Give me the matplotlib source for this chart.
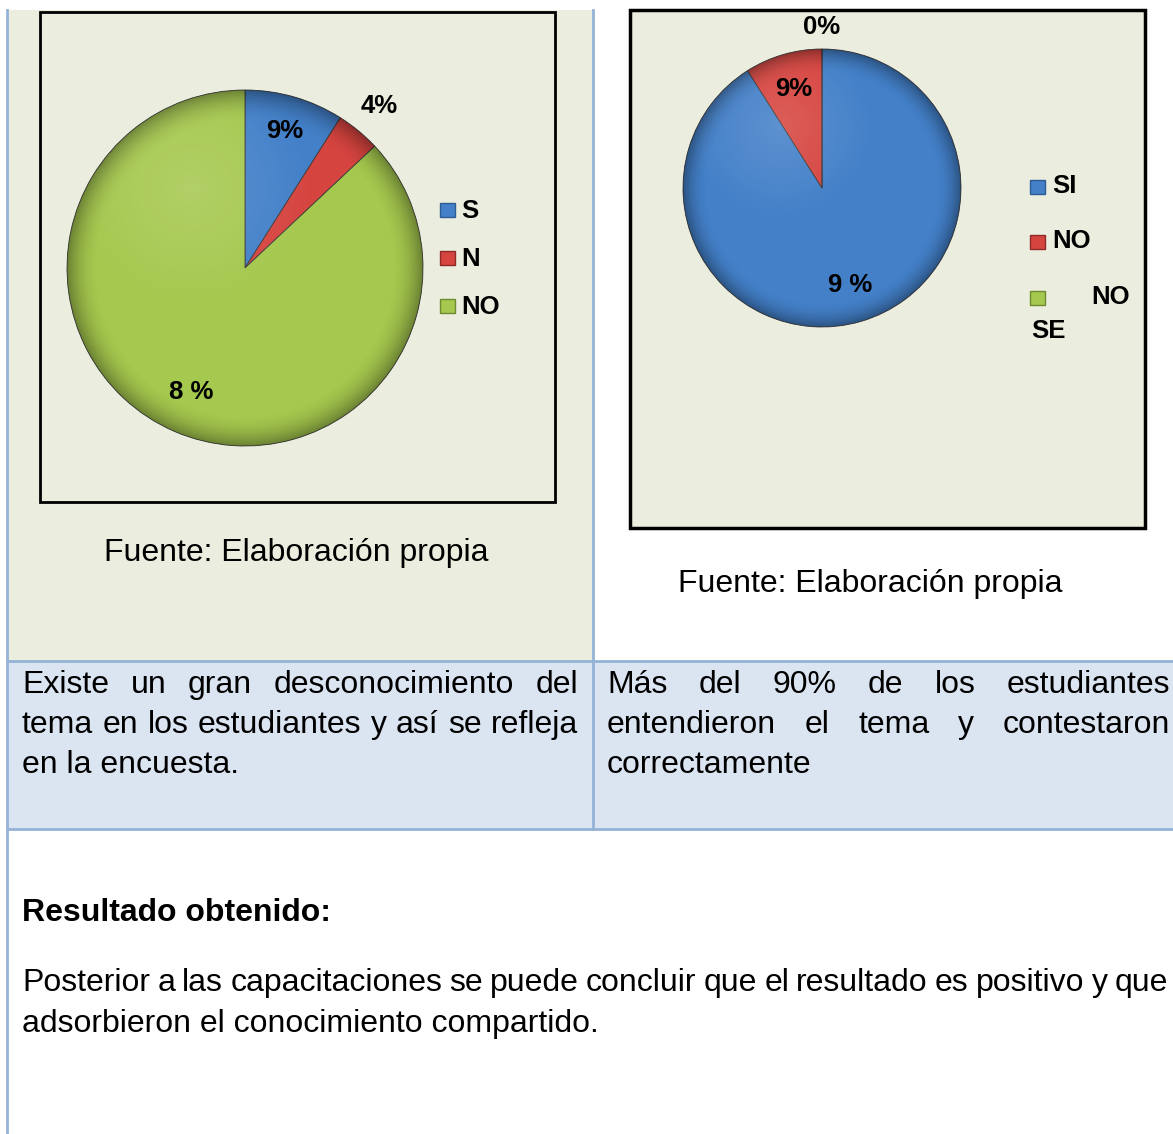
import numpy as np
import matplotlib
matplotlib.use("Agg")
import matplotlib.pyplot as plt
from matplotlib.patches import Rectangle, Circle

plt.rcParams['font.family'] = ['Liberation Sans', 'DejaVu Sans']

# data
left_labels = ['S', 'N', 'NO']
left_values = [9, 4, 87]
left_pct_text = ['9%', '4%', '8 %']

right_labels = ['SI', 'NO', 'NO SE']
right_values = [91, 9, 0]
right_pct_text = ['9 %', '9%', '0%']

source_text = 'Fuente: Elaboración propia'
left_note = ['Existe un gran desconocimiento del',
             'tema en los estudiantes y así se refleja',
             'en la encuesta.']
right_note = ['Más del 90% de los estudiantes',
              'entendieron el tema y contestaron',
              'correctamente']
result_title = 'Resultado obtenido:'
result_text = ['Posterior a las capacitaciones se puede concluir que el resultado es positivo y que',
               'adsorbieron el conocimiento compartido.']

W, H = 1173, 1134
BLUE, RED, GREEN = '#4380C8', '#D6443F', '#A5C84E'
EDGES = ['#2E5C94', '#8E2A27', '#6F8A30']
LINE = '#95B3D7'
CELL_GREEN = '#EBEEDF'
CELL_BLUE = '#DBE5F1'

fig = plt.figure(figsize=(W / 100, H / 100), dpi=100)
bg = fig.add_axes([0, 0, 1, 1])
bg.set_xlim(0, W)
bg.set_ylim(H, 0)
bg.axis('off')
renderer = fig.canvas.get_renderer()

# table cells
bg.add_patch(Rectangle((8, 10), 585, 651, color=CELL_GREEN, lw=0))
bg.add_patch(Rectangle((8, 662), W - 8, 167, color=CELL_BLUE, lw=0))
bg.plot([7, 7], [10, H], color=LINE, lw=2)
bg.plot([593, 593], [10, 829], color=LINE, lw=2)
bg.plot([7, W], [661, 661], color=LINE, lw=2)
bg.plot([7, W], [829, 829], color=LINE, lw=2)

# chart frames
bg.add_patch(Rectangle((40, 12), 515, 490, facecolor=CELL_GREEN, edgecolor='black', lw=2))
bg.add_patch(Rectangle((630, 10), 515, 518, facecolor=CELL_GREEN, edgecolor='black', lw=2.5))


def draw_pie(cx, cy, r, values, colors, texts, dists):
    ax = fig.add_axes([(cx - r) / W, 1 - (cy + r) / H, 2 * r / W, 2 * r / H])
    wedges, _ = ax.pie(values, colors=colors, startangle=90, counterclock=False,
                       wedgeprops=dict(edgecolor='#3a3a3a', linewidth=0.6))
    # darker rim for a bit of bevel
    yy, xx = np.mgrid[-1:1:400j, -1:1:400j]
    rr = np.hypot(xx, yy)
    shade = np.zeros((400, 400, 4))
    shade[..., 3] = np.clip((rr - 0.82) / 0.18, 0, 1) ** 2 * 0.35
    hl = np.zeros((400, 400, 4))
    hl[..., :3] = 1
    hl[..., 3] = np.clip(0.14 - 0.2 * np.hypot(xx + 0.3, yy - 0.45), 0, 1)
    for img in (shade, hl):
        im = ax.imshow(img, extent=(-1, 1, -1, 1), origin='lower', zorder=3)
        im.set_clip_path(Circle((0, 0), 1, transform=ax.transData))
    for w, t, d in zip(wedges, texts, dists):
        mid = np.deg2rad((w.theta1 + w.theta2) / 2)
        ax.text(d * np.cos(mid), d * np.sin(mid), t, ha='center', va='center',
                fontsize=18.5, fontweight='bold', zorder=5)
    ax.set_xlim(-1, 1)
    ax.set_ylim(-1, 1)
    ax.set_aspect('equal')
    ax.axis('off')


draw_pie(245, 268, 178, left_values, [BLUE, RED, GREEN], left_pct_text, [0.8, 1.18, 0.76])
draw_pie(822, 188, 139, right_values, [BLUE, RED, GREEN], right_pct_text, [0.73, 0.74, 1.16])

# legends
for (y, lab, c, e) in zip([210, 258, 306], left_labels, [BLUE, RED, GREEN], EDGES):
    bg.add_patch(Rectangle((440, y - 7), 15, 14, facecolor=c, edgecolor=e, lw=1))
    bg.text(461, y + 1, lab, fontsize=18.5, fontweight='bold', va='center')
for (y, c, e) in zip([187, 242, 298], [BLUE, RED, GREEN], EDGES):
    bg.add_patch(Rectangle((1030, y - 7), 15, 14, facecolor=c, edgecolor=e, lw=1))
bg.text(1052, 186, right_labels[0], fontsize=18.5, fontweight='bold', va='center')
bg.text(1052, 241, right_labels[1], fontsize=18.5, fontweight='bold', va='center')
no_se = right_labels[2].split()
bg.text(1130, 297, no_se[0], fontsize=18.5, fontweight='bold', va='center', ha='right')
bg.text(1031, 331, no_se[1], fontsize=18.5, fontweight='bold', va='center')

FS = 23
bg.text(104, 561, source_text, fontsize=FS, va='baseline')
bg.text(678, 592, source_text, fontsize=FS, va='baseline')


def justify(line, x0, x1, y, size, weight='normal'):
    words = line.split()
    texts = [bg.text(x0, y, w, fontsize=size, fontweight=weight, va='baseline') for w in words]
    widths = [t.get_window_extent(renderer).width for t in texts]
    gap = (x1 - x0 - sum(widths)) / (len(words) - 1)
    x = x0
    for t, w in zip(texts, widths):
        t.set_x(x)
        x += w + gap


for i, line in enumerate(left_note):
    y = 693 + 40 * i
    if i < len(left_note) - 1:
        justify(line, 22, 578, y, FS)
    else:
        bg.text(22, y, line, fontsize=FS, va='baseline')
for i, line in enumerate(right_note):
    y = 693 + 40 * i
    if i < len(right_note) - 1:
        justify(line, 607, 1170, y, FS)
    else:
        bg.text(607, y, line, fontsize=FS, va='baseline')

bg.text(22, 921, result_title, fontsize=FS, fontweight='bold', va='baseline')
justify(result_text[0], 22, 1168, 991, FS)
bg.text(22, 1032, result_text[1], fontsize=FS, va='baseline')

fig.savefig('out.png', dpi=100)
